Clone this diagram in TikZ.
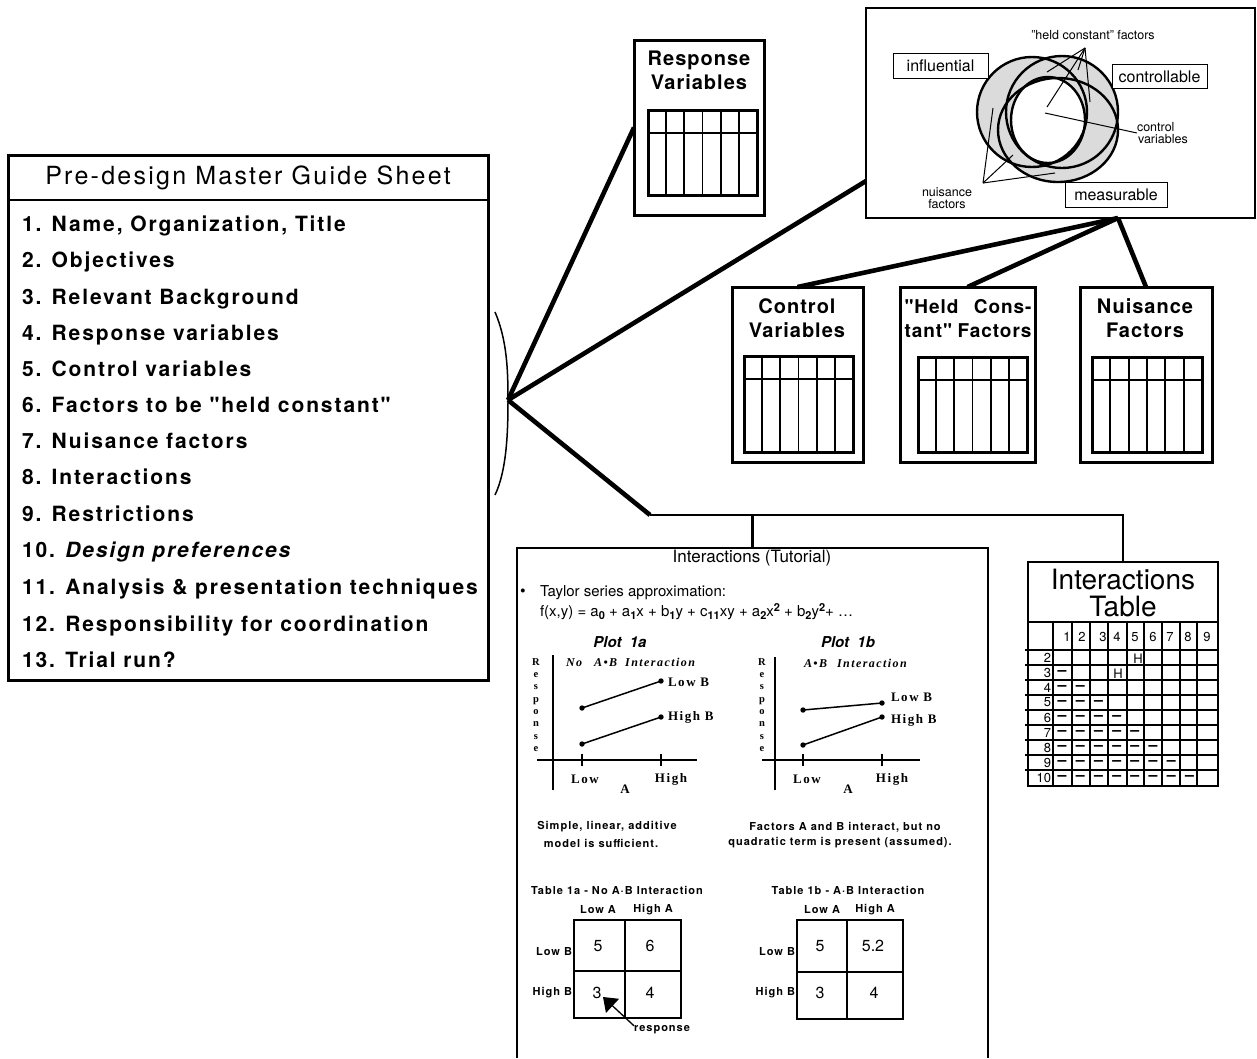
\documentclass[tikz,border=0pt]{standalone}
\usepackage{fontspec}
\setmainfont{TeX Gyre Heros}
\newfontfamily\lsA[LetterSpace=9]{TeX Gyre Heros}
\newfontfamily\lsB[LetterSpace=5]{TeX Gyre Heros}
\newfontfamily\serf{Liberation Serif}
\newfontfamily\serLS[LetterSpace=12]{Liberation Serif}
\usetikzlibrary{arrows.meta,calc}
\newcommand{\myfs}[1]{\fontsize{#1pt}{#1pt}\selectfont}
\newcommand{\myfsb}[2]{\fontsize{#1pt}{#2pt}\selectfont}
\newcommand{\lowd}[1]{\raisebox{-2.5pt}{\bfseries\myfs{11}#1}}
\newcommand{\highd}[1]{\raisebox{5pt}{\bfseries\myfs{11}#1}}
\newcommand{\vtab}[4]{%
  \draw[line width=3pt] ({#1},{#2}) rectangle ({#3},{#4});
  \draw[line width=2pt] ({#1},{#2+23}) -- ({#3},{#2+23});
  \foreach \k in {1,...,5}{\draw[line width=1.8pt] ({#1+\k*(#3-#1)/6},{#2}) -- ({#1+\k*(#3-#1)/6},{#4});}
}
\tikzset{
  every node/.style={inner sep=0pt, outer sep=0pt},
  conn/.style={line width=4.6pt},
  conn2/.style={line width=2.6pt},
  bigbox/.style={draw, line width=3pt, anchor=north west},
  vtitle/.style={align=center, font=\lsB\bfseries\myfsb{20}{24}},
  item/.style={anchor=west, font=\lsA\bfseries\myfs{21}, text height=15pt, text depth=4pt},
  thinl/.style={line width=1pt},
  smallb/.style={font=\lsA\bfseries\myfs{11}},
  serb/.style={font=\serLS\bfseries\myfs{13}},
  plotl/.style={line width=1.5pt},
  axisl/.style={line width=2pt},
  cellnum/.style={font=\myfs{16}},
  gridnum/.style={font=\myfs{13}},
  vlab/.style={draw, line width=1pt, fill=white, font=\myfs{16}},
  vsmall/.style={font=\myfsb{12.5}{11.5}},
  resp/.style={align=center, font=\serf\bfseries\myfsb{10.5}{12.3}},
  ilab/.style={anchor=west, font=\serLS\bfseries\itshape\myfs{12}},
}
\begin{document}
\begin{tikzpicture}[x=1pt,y=-1pt]
\useasboundingbox (0,0) rectangle (1257,1058);

% ---------------- Master guide sheet ----------------
\node[bigbox, minimum width=480pt, minimum height=525pt] (ms) at (8,155) {};
\draw[line width=2.6pt] ($(ms.north west)+(0,45)$) -- ($(ms.north east)+(0,45)$);
\node[font=\lsA\myfs{25}] (mstitle) at (248,178) {Pre-design Master Guide Sheet};
\node[item] (i1) at (22,226) {1. Name, Organization, Title};
\node[item] (i2) at (22,262) {2. Objectives};
\node[item] (i3) at (22,299) {3. Relevant Background};
\node[item] (i4) at (22,335) {4. Response variables};
\node[item] (i5) at (22,371) {5. Control variables};
\node[item] (i6) at (22,407) {6. Factors to be "held constant"};
\node[item] (i7) at (22,443) {7. Nuisance factors};
\node[item] (i8) at (22,479) {8. Interactions};
\node[item] (i9) at (22,516) {9. Restrictions};
\node[item] (i10) at (22,552) {10. {\itshape Design preferences}};
\node[item] (i11) at (22,589) {11. Analysis \& presentation techniques};
\node[item] (i12) at (22,626) {12. Responsibility for coordination};
\node[item] (i13) at (22,662) {13. Trial run?};

% bracket and hub
\draw[line width=1.5pt] (495,312) .. controls (507,340) and (508,370) .. (508,400)
      .. controls (508,430) and (507,470) .. (495,495);
\coordinate (hub) at (508,400);

% ---------------- Response variables ----------------
\node[bigbox, minimum width=130pt, minimum height=175pt] (rv) at (634,40) {};
\node[vtitle] (rvt) at (699,70.5) {Response\\Variables};
\vtab{648}{110}{757}{195}

% ---------------- Venn box ----------------
\node[draw, line width=1.4pt, anchor=north west, minimum width=389pt, minimum height=210pt] (venn) at (866,8) {};
\fill[black!14] (1032,112) circle (55pt);
\fill[black!14] (1062,112) circle (56pt);
\fill[black!14] (1058,130) ellipse [x radius=60pt, y radius=52pt];
\fill[white] (1048,120) ellipse [x radius=37pt, y radius=43pt];
\draw[line width=2.4pt] (1032,112) circle (55pt);
\draw[line width=2.4pt] (1062,112) circle (56pt);
\draw[line width=2.4pt] (1058,130) ellipse [x radius=60pt, y radius=52pt];
\draw[line width=2.4pt] (1048,120) ellipse [x radius=37pt, y radius=43pt];
\node[vlab, minimum width=95pt, minimum height=25pt] (infl) at (940.5,65.5) {influential};
\node[vlab, minimum width=95pt, minimum height=24pt] (ctrl) at (1159.5,76.5) {controllable};
\node[vlab, minimum width=102pt, minimum height=25pt] (meas) at (1116,194.5) {measurable};
\node[vsmall] (hcl) at (1093,35) {"held constant" factors};
\coordinate (hcap) at (1085,48);
\draw[thinl] (hcap) -- (1047,72);
\draw[thinl] (hcap) -- (1078,70);
\draw[thinl] (hcap) -- (1090,102);
\draw[thinl] (hcap) -- (1047,107);
\node[vsmall, align=left, anchor=west] (cvl) at (1137,133) {\hspace*{0pt}control\\\hspace*{1pt}variables};
\draw[thinl] (1045,113) -- (cvl.west);
\node[vsmall, align=center] (nfl) at (947,198) {nuisance\\factors};
\coordinate (nfap) at (983,183);
\draw[thinl] (nfap) -- (993,108);
\draw[thinl] (nfap) -- (1013,155);
\draw[thinl] (nfap) -- (1055,173);

% ---------------- Three variable boxes ----------------
\node[bigbox, minimum width=131pt, minimum height=175pt] (cv) at (732,287) {};
\node[vtitle] (cvt) at (797,318.5) {Control\\Variables};
\vtab{744}{356}{853}{452}
\node[bigbox, minimum width=135pt, minimum height=175pt] (hc) at (900,287) {};
\node[align=center, font=\lsB\bfseries\myfsb{19}{24}] (hct) at (968,318.5)
  {\makebox[127pt][s]{"Held Cons-}\\\makebox[127pt][s]{tant" Factors}};
\vtab{918}{357}{1027}{452}
\node[bigbox, minimum width=132pt, minimum height=175pt] (nf) at (1080,287) {};
\node[vtitle] (nft) at (1145,318.5) {Nuisance\\Factors};
\vtab{1092}{357}{1202}{452}

% ---------------- Interactions table ----------------
\node[draw, line width=2.2pt, anchor=north west, minimum width=190pt, minimum height=224pt] (it) at (1028,562) {};
\draw[line width=2.2pt] (1028,622) -- (1218,622);
\node[align=center, font=\myfsb{28}{27}] (itt) at (1123,593) {Interactions\\Table};
\foreach \x in {1053,1072,1090,1108,1127,1144,1162,1180,1197}
  \draw[line width=2pt] (\x,622) -- (\x,786);
\foreach \k in {0,...,8}
  \draw[line width=2pt] (1025,{650+15*\k}) -- (1218,{650+15*\k});
\foreach \n/\x in {1/1067,2/1082,3/1103,4/1117,5/1135,6/1153,7/1170,8/1188,9/1207}
  \node[gridnum] (h\n) at (\x,637) {\n};
\foreach \r in {2,...,10}
  \node[gridnum, anchor=east] (row\r) at (1051,{657.5+15*(\r-2)}) {\r};
\foreach \r in {3,...,10}{
  \pgfmathtruncatemacro{\cmax}{\r-2}
  \foreach \c in {1,...,\cmax}
    \node[font=\bfseries\myfs{16}] (d\r-\c) at ({1053+18.2*(\c-0.5)},{658+15*(\r-2)}) {–};
}
\node[gridnum] (hA) at (1138,659) {H};
\node[gridnum] (hB) at (1118,674) {H};

% ---------------- Tutorial box ----------------
\node[anchor=north west, minimum width=471pt, minimum height=510pt] (tut) at (517,548) {};
\draw[line width=1.6pt] (tut.south west) -- (tut.north west) -- (tut.north east) -- (tut.south east);
\node[font=\myfs{17}] (tutt) at (752,558) {Interactions (Tutorial)};
\node[font=\myfs{16}] (bul) at (523,593) {•};
\node[anchor=west, font=\myfs{15}] (taylor) at (540,593) {Taylor series approximation:};
\node[anchor=west, font=\myfs{15}] (feq) at (540,612)
  {f(x,y) = a\lowd{0} + a\lowd{1}x + b\lowd{1}y + c\lowd{11}xy + a\lowd{2}x\highd{2} + b\lowd{2}y\highd{2}+ \dots};

% Plot 1a
\node[font=\bfseries\itshape\myfs{15}] (p1a) at (620,642) {Plot\ \ 1a};
\node[resp] (r1a) at (536,705) {R\\e\\s\\p\\o\\n\\s\\e};
\node[ilab] (ia) at (566,662) {No\hspace{12pt}A•B\hspace{8pt}Interaction};
\draw[axisl] (553,655) -- (553,790);
\draw[axisl] (537,760) -- (697,760);
\draw[axisl] (582,754) -- (582,766);
\draw[axisl] (661,754) -- (661,766);
\coordinate (a1) at (582,708); \coordinate (a2) at (661,681);
\coordinate (a3) at (582,744); \coordinate (a4) at (661,717);
\draw[plotl] (a1) -- (a2); \draw[plotl] (a3) -- (a4);
\foreach \p in {a1,a2,a3,a4} \fill (\p) circle (2.7pt);
\node[serb, anchor=west] (lb1) at (668,682) {Low B};
\node[serb, anchor=west] (hb1) at (668,717) {High B};
\node[serb] (lo1) at (585,779) {Low};
\node[serb] (hi1) at (671,779) {High};
\node[serb] (ax1) at (625,789) {A};

% Plot 1b
\node[font=\bfseries\itshape\myfs{15}] (p1b) at (848,642) {Plot\ \ 1b};
\node[resp] (r1b) at (762,705) {R\\e\\s\\p\\o\\n\\s\\e};
\node[ilab] (ib) at (804,663) {A•B\hspace{10pt}Interaction};
\draw[axisl] (775,657) -- (775,790);
\draw[axisl] (762,760) -- (920,760);
\draw[axisl] (803,754) -- (803,766);
\draw[axisl] (882,754) -- (882,766);
\coordinate (b1) at (803,710); \coordinate (b2) at (882,703);
\coordinate (b3) at (803,745); \coordinate (b4) at (882,717);
\draw[plotl] (b1) -- (b2); \draw[plotl] (b3) -- (b4);
\foreach \p in {b1,b2,b3,b4} \fill (\p) circle (2.7pt);
\node[serb, anchor=west] (lb2) at (891,697) {Low B};
\node[serb, anchor=west] (hb2) at (891,720) {High B};
\node[serb] (lo2) at (807,779) {Low};
\node[serb] (hi2) at (892,779) {High};
\node[serb] (ax2) at (848,789) {A};

% comments under plots
\node[smallb] (s1) at (607,827) {Simple, linear, additive};
\node[smallb] (s2) at (601,843) {model is sufficient.};
\node[smallb] (f1) at (845,827) {Factors A and B interact, but no};
\node[smallb] (f2) at (840,843) {quadratic term is present (assumed).};

% Table 1a
\node[smallb] (t1a) at (617,890) {Table 1a - No A·B Interaction};
\node[smallb] (la1) at (598,910) {Low A};
\node[smallb] (ha1) at (653,910) {High A};
\node[smallb, anchor=east] (lbr1) at (572,952) {Low B};
\node[smallb, anchor=east] (hbr1) at (572,993) {High B};
\draw[line width=1.3pt] (574,920) rectangle (681,1018);
\draw[line width=1.3pt] (625,920) -- (625,1018);
\draw[line width=1.3pt] (574,971) -- (681,971);
\node[cellnum] (c11) at (598,946) {5};
\node[cellnum] (c12) at (650,946) {6};
\node[cellnum] (c21) at (597,993) {3};
\node[cellnum] (c22) at (650,993) {4};
\node[smallb, anchor=west] (respl) at (634,1030) {response};
\coordinate (atip) at (603,997);
\draw[line width=1.3pt, -{Triangle[length=13pt,width=19pt]}] (respl.north west) -- (atip);

% Table 1b
\node[smallb] (t1b) at (848,890) {Table 1b - A·B Interaction};
\node[smallb] (la2) at (822,910) {Low A};
\node[smallb] (ha2) at (875,910) {High A};
\node[smallb, anchor=east] (lbr2) at (795,952) {Low B};
\node[smallb, anchor=east] (hbr2) at (795,993) {High B};
\draw[line width=1.3pt] (797,920) rectangle (903,1019);
\draw[line width=1.3pt] (847,920) -- (847,1019);
\draw[line width=1.3pt] (797,972) -- (903,972);
\node[cellnum] (e11) at (820,946) {5};
\node[cellnum] (e12) at (873,946) {5.2};
\node[cellnum] (e21) at (820,993) {3};
\node[cellnum] (e22) at (874,993) {4};

% ---------------- Connectors ----------------
\draw[conn] (hub) -- (rv.west);
\coordinate (vin) at (866,181);
\draw[conn] (hub) -- (vin);
\coordinate (bend) at (650,515);
\draw[conn] (hub) -- (bend);
\draw[conn2] (bend) -| (it.north);
\draw[conn2] (bend -| tut.north) -- (tut.north);
\coordinate (vout) at (1118,218);
\draw[conn] (vout) -- (cv.north);
\draw[conn] (vout) -- (hc.north);
\draw[conn] (vout) -- (nf.north);
\end{tikzpicture}
\end{document}
